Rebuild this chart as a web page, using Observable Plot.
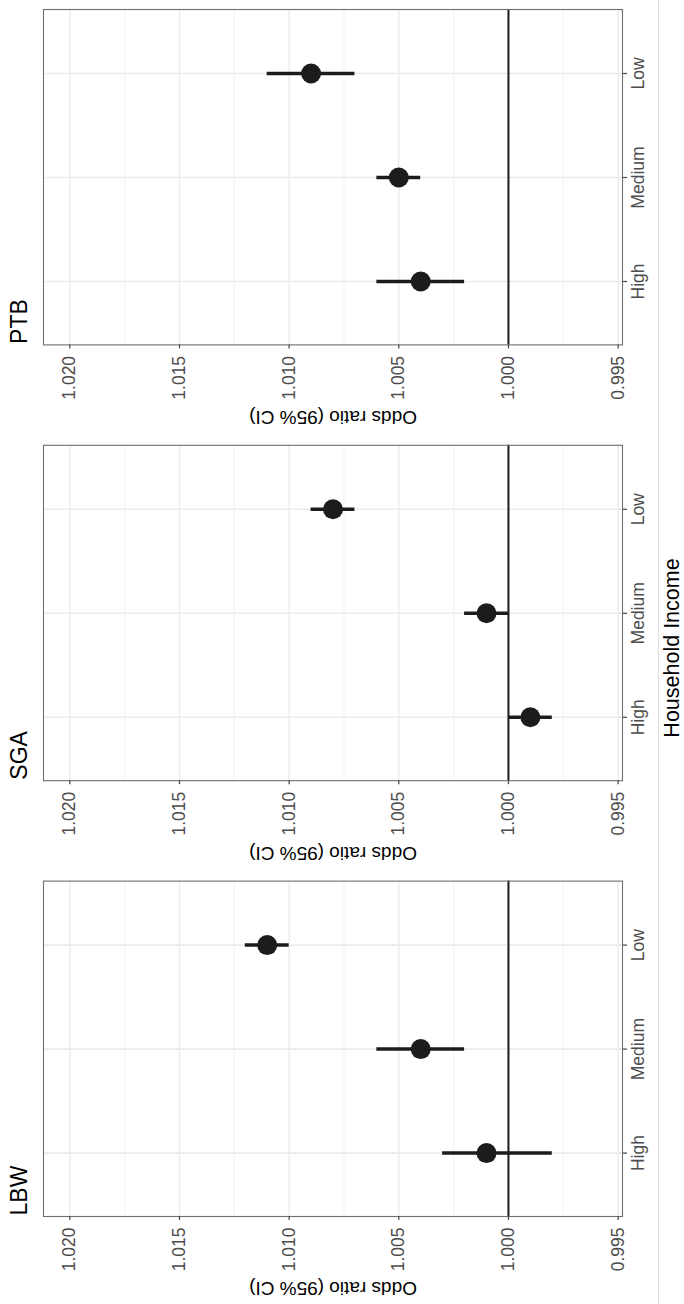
<!DOCTYPE html>
<html><head><meta charset="utf-8">
<script src="https://cdn.jsdelivr.net/npm/d3@7"></script>
<script src="https://cdn.jsdelivr.net/npm/@observablehq/plot@0.6"></script>
<style>
html,body{margin:0;padding:0;background:#fff;}
#wrap{position:relative;width:684px;height:1304px;overflow:hidden;}
#divider{position:absolute;left:658px;top:0;width:1px;height:1304px;background:#dedede;}
</style></head><body>
<div id="wrap"><div id="chart"></div><div id="divider"></div></div>
<script>
// panels (top to bottom in the rotated figure) and income categories
const outcomes = ["PTB", "SGA", "LBW"];
const incomes = ["Low", "Medium", "High"];

// estimates
const outcome   = ["LBW", "LBW", "LBW", "SGA", "SGA", "SGA", "PTB", "PTB", "PTB"];
const income    = ["High", "Medium", "Low", "High", "Medium", "Low", "High", "Medium", "Low"];
const oddsRatio = [1.001, 1.004, 1.011, 0.999, 1.001, 1.008, 1.004, 1.005, 1.009];
const lower     = [0.998, 1.002, 1.010, 0.998, 1.000, 1.007, 1.002, 1.004, 1.007];
const upper     = [1.003, 1.006, 1.012, 1.000, 1.002, 1.009, 1.006, 1.006, 1.011];

// axis ticks
const majorTicks = [1.020, 1.015, 1.010, 1.005, 1.000, 0.995];
const minorTicks = [1.0175, 1.0125, 1.0075, 1.0025, 0.9975];
const xLimits = [0.996, 1.020];

const xTitle = "Odds ratio (95% CI)";
const yTitle = "Household Income";

const table = outcome.map((o, i) => ({
  outcome: o, income: income[i], or: oddsRatio[i], lower: lower[i], upper: upper[i]
}));

const pad = (xLimits[1] - xLimits[0]) * 0.05;
const ink = "#1c1c1c";
const tickInk = "#4d4d4d";
const font = "'Liberation Sans', Arial, Helvetica, sans-serif";

const chart = Plot.plot({
  width: 684,
  height: 1304,
  marginTop: 9,
  marginBottom: 88,
  marginLeft: 43,
  marginRight: 62,
  style: {fontFamily: font, background: "#fff"},
  x: {domain: [xLimits[1] + pad, xLimits[0] - pad]},
  y: {type: "point", domain: incomes, padding: 0.6},
  fy: {domain: outcomes, paddingInner: 0.2304, paddingOuter: 0, axis: null, round: false},
  marks: [
    Plot.gridX(minorTicks, {stroke: "#f0f0f0", strokeOpacity: 1, strokeWidth: 0.9, facetAnchor: null}),
    Plot.gridX(majorTicks, {stroke: "#ebebeb", strokeOpacity: 1, strokeWidth: 1.4, facetAnchor: null}),
    Plot.gridY(incomes, {stroke: "#ebebeb", strokeOpacity: 1, strokeWidth: 1.6, facetAnchor: null}),
    Plot.ruleX([1], {stroke: ink, strokeWidth: 2}),
    Plot.ruleY(table, {fy: "outcome", y: "income", x1: "lower", x2: "upper", stroke: ink, strokeWidth: 3.5}),
    Plot.dot(table, {fy: "outcome", y: "income", x: "or", r: 10, fill: ink, stroke: null}),
    Plot.frame({stroke: "#6e6e6e", strokeWidth: 1.1}),
    Plot.axisX(majorTicks, {anchor: "bottom", facetAnchor: null, tickSize: 4, tickFormat: () => "", label: null, stroke: "#444", strokeWidth: 1.2}),
    Plot.axisY(incomes, {anchor: "right", facetAnchor: null, tickSize: 4, tickFormat: () => "", label: null, stroke: "#444", strokeWidth: 1.2}),
    Plot.text(majorTicks, {x: d => d, text: d3.format(".3f"), frameAnchor: "bottom", dy: 11, rotate: -90,
      textAnchor: "end", lineAnchor: "middle", fontSize: 17.5, fill: tickInk}),
    Plot.text(incomes, {y: d => d, text: d => d, frameAnchor: "right", dx: 16, rotate: -90,
      textAnchor: "middle", lineAnchor: "middle", fontSize: 17.5, fill: tickInk}),
    Plot.text(outcomes, {fy: d => d, text: d => d, frameAnchor: "bottom-left", dx: -24, dy: -1, rotate: -90,
      textAnchor: "start", lineAnchor: "middle", fontSize: 23, fill: "#000"}),
    Plot.text([xTitle], {text: d => d, frameAnchor: "bottom", dy: 72, rotate: 180,
      textAnchor: "middle", lineAnchor: "middle", fontSize: 19, fill: "#000"}),
    Plot.text([yTitle], {facet: "super", text: d => d, frameAnchor: "right", dx: 50, dy: 35, rotate: -90,
      textAnchor: "middle", lineAnchor: "middle", fontSize: 21.5, fill: "#000"})
  ]
});
document.getElementById("chart").appendChild(chart);
</script>
</body></html>
